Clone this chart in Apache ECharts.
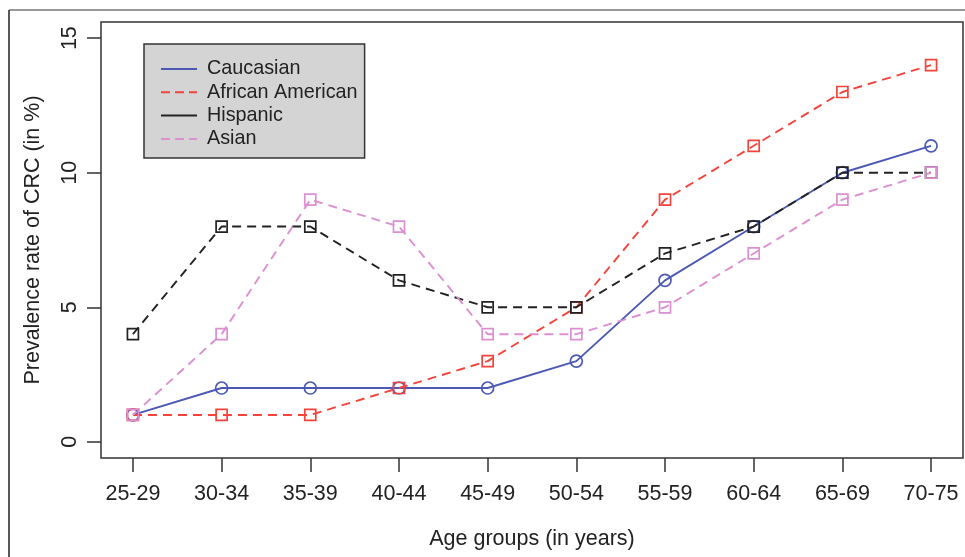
<!DOCTYPE html>
<html>
<head>
<meta charset="utf-8">
<script src="https://cdn.jsdelivr.net/npm/echarts@6/dist/echarts.min.js"></script>
<style>
html,body{margin:0;padding:0;background:#fff;}
#chart{width:965px;height:557px;}
</style>
</head>
<body>
<div id="chart"></div>
<script>
const categories = ['25-29','30-34','35-39','40-44','45-49','50-54','55-59','60-64','65-69','70-75'];
const caucasian = [1,2,2,2,2,3,6,8,10,11];
const africanAmerican = [1,1,1,2,3,5,9,11,13,14];
const hispanic = [4,8,8,6,5,5,7,8,10,10];
const asian = [1,4,9,8,4,4,5,7,9,10];
const yTicks = [0,5,10,15];
const xTicks = categories.map((c,i)=>i+1);

const FONT = '"Liberation Sans", Arial, Helvetica, sans-serif';
const TXT = '#222';
const AX = '#333';

function pts(arr){ return arr.map((v,i)=>[i+1, v]); }

const SOLID = 'path://M0,0H36V2H0Z';
const DASHED = 'path://M0,0H9V2H0Z M14,0H23V2H14Z M28,0H36V2H28Z';

const seriesDefs = [
  {name:'Caucasian', data:caucasian, color:'#4b59b5', type:'solid', symbol:'circle', size:12, legendIcon:SOLID},
  {name:'African American', data:africanAmerican, color:'#f4433b', type:[9,6], symbol:'rect', size:11, legendIcon:DASHED},
  {name:'Hispanic', data:hispanic, color:'#222222', type:[9,6], symbol:'rect', size:11, legendIcon:SOLID},
  {name:'Asian', data:asian, color:'#dc8fd1', type:[9,6], symbol:'rect', size:11, legendIcon:DASHED}
];

const chart = echarts.init(document.getElementById('chart'), null, {renderer:'canvas'});
chart.setOption({
  animation:false,
  backgroundColor:'#fff',
  textStyle:{fontFamily:FONT},
  graphic:[
    {type:'line', shape:{x1:9,y1:10,x2:965,y2:10}, style:{stroke:'#999',lineWidth:2}, silent:true},
    {type:'line', shape:{x1:9,y1:10,x2:9,y2:557}, style:{stroke:'#222',lineWidth:1.5}, silent:true}
  ],
  grid:{left:101, right:2, top:22, bottom:99, show:true, borderColor:AX, borderWidth:1.5, backgroundColor:'transparent'},
  legend:{
    orient:'vertical', left:144, top:44,
    backgroundColor:'#d4d4d4', borderColor:'#333', borderWidth:1.5, borderRadius:0,
    padding:[15,7,9,17], itemGap:3.3, itemWidth:36, itemHeight:2,
    itemStyle:{borderWidth:0},
    selectedMode:false,
    textStyle:{fontFamily:FONT, fontSize:19.8, color:TXT, lineHeight:20, padding:[0,0,0,5]},
    data: seriesDefs.map(s=>({name:s.name, icon:s.legendIcon, itemStyle:{color:s.color, borderWidth:0}}))
  },
  xAxis:{
    type:'value', min:0.64, max:10.36,
    name:'Age groups (in years)', nameLocation:'middle', nameGap:70,
    nameTextStyle:{fontFamily:FONT, fontSize:21.5, color:TXT},
    axisLine:{show:false, onZero:false},
    axisTick:{show:true, length:14, lineStyle:{color:AX,width:1.5}, customValues:xTicks},
    axisLabel:{show:true, margin:25, fontFamily:FONT, fontSize:21.5, color:TXT, customValues:xTicks,
      formatter:v=>categories[Math.round(v)-1]},
    splitLine:{show:false}
  },
  yAxis:{
    type:'value', min:-0.6, max:15.6,
    name:'Prevalence rate of CRC (in %)', nameLocation:'middle', nameGap:57,
    nameTextStyle:{fontFamily:FONT, fontSize:21.5, color:TXT},
    axisLine:{show:false, onZero:false},
    axisTick:{show:true, length:14, lineStyle:{color:AX,width:1.5}, customValues:yTicks},
    axisLabel:{show:true, rotate:90, margin:20, fontFamily:FONT, fontSize:21.5, color:TXT, customValues:yTicks,
      formatter:v=>String(v)},
    splitLine:{show:false}
  },
  series: seriesDefs.map(s=>({
    name:s.name, type:'line', data:pts(s.data),
    symbol:s.symbol, symbolSize:s.size, showSymbol:true,
    color:s.color,
    lineStyle:{color:s.color, width:1.9, type:s.type},
    itemStyle:{color:'transparent', borderColor:s.color, borderWidth:1.7},
    emphasis:{disabled:true},
    silent:true
  }))
});
</script>
</body>
</html>
